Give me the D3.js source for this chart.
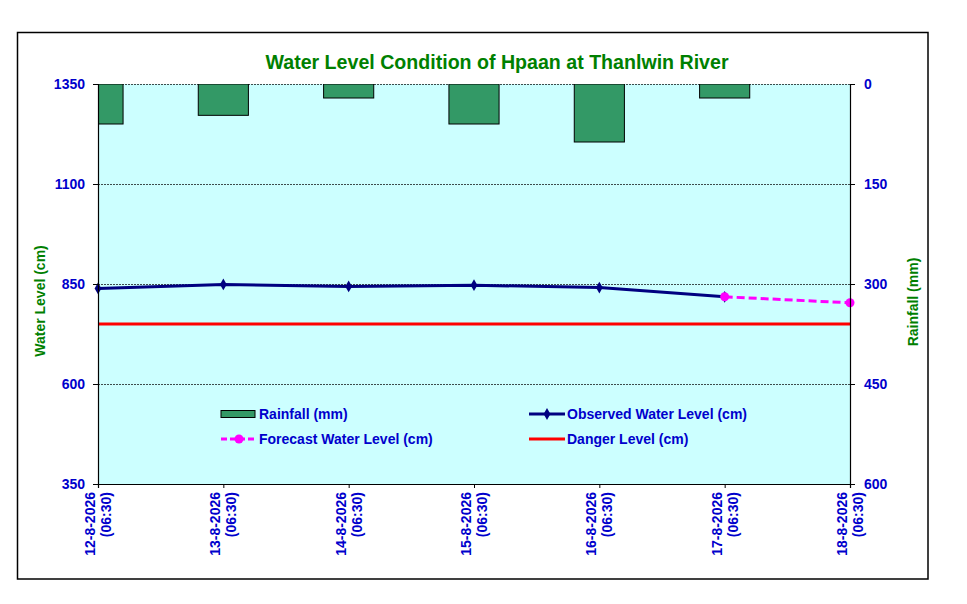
<!DOCTYPE html>
<html>
<head>
<meta charset="utf-8">
<script src="https://cdn.jsdelivr.net/npm/d3@7"></script>
<style>
  body { margin: 0; background: #fff; }
  svg { display: block; font-family: Arial, 'Liberation Sans', sans-serif; }
</style>
</head>
<body>
<main></main>
<script>
const dates = ['12-8-2026', '13-8-2026', '14-8-2026', '15-8-2026', '16-8-2026', '17-8-2026', '18-8-2026'];
const timeLabel = '(06:30)';
const observed = [839, 849, 844, 847, 841, 818, null];
const forecast = [null, null, null, null, null, 818, 803];
const rainfall = [60, 47, 21, 60, 87, 21, 0];
const dangerLevel = 750;
const levelTicks = [350, 600, 850, 1100, 1350];
const rainTicks = [0, 150, 300, 450, 600];

const width = 967;
const height = 604;
const plot = { left: 98, right: 850, top: 84, bottom: 484 };
const blue = '#0000cc';
const green = '#008000';

const svg = d3.select('main')
  .append('svg')
  .attr('width', width)
  .attr('height', height)

// outer frame
svg.append('rect')
  .attr('x', 17.5)
  .attr('y', 32.5)
  .attr('width', 910.5)
  .attr('height', 546.5)
  .attr('fill', '#fff')
  .attr('stroke', '#000')
  .attr('stroke-width', 1.5)

// Scales
const x = d3.scalePoint()
  .domain(dates)
  .range([plot.left, plot.right])

const yLevel = d3.scaleLinear()
  .domain([350, 1350])
  .range([plot.bottom, plot.top])

const yRain = d3.scaleLinear()
  .domain([0, 600])
  .range([plot.top, plot.bottom])

// plot background
svg.append('rect')
  .attr('x', plot.left)
  .attr('y', plot.top)
  .attr('width', plot.right - plot.left)
  .attr('height', plot.bottom - plot.top)
  .attr('fill', '#ccffff')

svg.append('clipPath')
  .attr('id', 'plot-clip')
  .append('rect')
  .attr('x', plot.left)
  .attr('y', plot.top)
  .attr('width', plot.right - plot.left)
  .attr('height', plot.bottom - plot.top)

// grid lines
svg.append('g')
  .selectAll('line')
  .data(levelTicks.filter(d => d > 350))
  .enter()
  .append('line')
  .attr('x1', plot.left)
  .attr('x2', plot.right)
  .attr('y1', d => yLevel(d) + 0.5)
  .attr('y2', d => yLevel(d) + 0.5)
  .attr('stroke', '#000')
  .attr('stroke-width', 0.7)
  .attr('stroke-dasharray', '2,1')

// Rainfall bars
const barWidth = x.step() * 0.4;
svg.append('g')
  .attr('clip-path', 'url(#plot-clip)')
  .selectAll('rect')
  .data(dates.map((d, i) => ({ date: d, value: rainfall[i] })).filter(d => d.value > 0))
  .enter()
  .append('rect')
  .attr('x', d => x(d.date) - barWidth / 2)
  .attr('y', yRain(0))
  .attr('width', barWidth)
  .attr('height', d => yRain(d.value) - yRain(0))
  .attr('fill', '#339966')
  .attr('stroke', '#000')
  .attr('stroke-width', 1)

// Danger level
svg.append('line')
  .attr('x1', plot.left)
  .attr('x2', plot.right)
  .attr('y1', yLevel(dangerLevel))
  .attr('y2', yLevel(dangerLevel))
  .attr('stroke', '#ff0000')
  .attr('stroke-width', 3)

// Observed line
const obsData = dates.map((d, i) => ({ date: d, value: observed[i] })).filter(d => d.value !== null);
const line = d3.line()
  .x(d => x(d.date))
  .y(d => yLevel(d.value))

svg.append('path')
  .datum(obsData)
  .attr('d', line)
  .attr('fill', 'none')
  .attr('stroke', '#000080')
  .attr('stroke-width', 3)

const diamond = d3.symbol().type(d3.symbolDiamond).size(40);
svg.append('g')
  .selectAll('path')
  .data(obsData)
  .enter()
  .append('path')
  .attr('d', diamond)
  .attr('transform', d => `translate(${x(d.date)}, ${yLevel(d.value)})`)
  .attr('fill', '#000080')

// Forecast line
const fcData = dates.map((d, i) => ({ date: d, value: forecast[i] })).filter(d => d.value !== null);
svg.append('path')
  .datum(fcData)
  .attr('d', line)
  .attr('fill', 'none')
  .attr('stroke', '#ff00ff')
  .attr('stroke-width', 3)
  .attr('stroke-dasharray', '8,4')

svg.append('g')
  .selectAll('circle')
  .data(fcData)
  .enter()
  .append('circle')
  .attr('cx', d => x(d.date))
  .attr('cy', d => yLevel(d.value))
  .attr('r', 4.5)
  .attr('fill', '#ff00ff')

// Axes
const leftAxis = svg.append('g')
  .attr('transform', `translate(${plot.left}, 0)`)
  .call(d3.axisLeft(yLevel).tickValues(levelTicks).tickFormat(d3.format('d')).tickSize(5).tickPadding(8))

const rightAxis = svg.append('g')
  .attr('transform', `translate(${plot.right}, 0)`)
  .call(d3.axisRight(yRain).tickValues(rainTicks).tickFormat(d3.format('d')).tickSize(5).tickPadding(9))

const bottomAxis = svg.append('g')
  .attr('transform', `translate(0, ${plot.bottom})`)
  .call(d3.axisBottom(x).tickSize(4).tickFormat(''))

for (const ax of [leftAxis, rightAxis, bottomAxis]) {
  ax.select('.domain').attr('stroke', '#000').attr('stroke-width', 1.2)
  ax.selectAll('.tick line').attr('stroke', '#000')
  ax.selectAll('text')
    .attr('fill', blue)
    .style('font-size', '14px')
    .style('font-weight', 'bold')
    .style('font-family', "Arial, 'Liberation Sans', sans-serif")
}

// x labels, rotated, two lines
const xLabels = svg.append('g')
  .selectAll('text')
  .data(dates)
  .enter()
  .append('text')
  .attr('transform', d => `translate(${x(d) - 8}, 492) rotate(-90)`)
  .attr('text-anchor', 'end')
  .attr('fill', blue)
  .style('font-size', '14px')
  .style('font-weight', 'bold')

xLabels.append('tspan')
  .attr('x', 0)
  .attr('dy', '0.35em')
  .text(d => d)

xLabels.append('tspan')
  .attr('x', 0)
  .attr('dy', 16)
  .text(timeLabel)

// Title
svg.append('text')
  .attr('x', 497)
  .attr('y', 69)
  .attr('text-anchor', 'middle')
  .attr('fill', green)
  .style('font-size', '19.6px')
  .style('font-weight', 'bold')
  .text('Water Level Condition of Hpaan at Thanlwin River')

// Axis titles
svg.append('text')
  .attr('transform', 'translate(45, 301) rotate(-90)')
  .attr('text-anchor', 'middle')
  .attr('fill', green)
  .style('font-size', '14px')
  .style('font-weight', 'bold')
  .text('Water Level (cm)')

svg.append('text')
  .attr('transform', 'translate(918, 302) rotate(-90)')
  .attr('text-anchor', 'middle')
  .attr('fill', green)
  .style('font-size', '14px')
  .style('font-weight', 'bold')
  .text('Rainfall (mm)')

// Legend
const legendItems = [
  { label: 'Rainfall (mm)', type: 'bar', col: 0, row: 0 },
  { label: 'Observed Water Level (cm)', type: 'observed', col: 1, row: 0 },
  { label: 'Forecast Water Level (cm)', type: 'forecast', col: 0, row: 1 },
  { label: 'Danger Level (cm)', type: 'danger', col: 1, row: 1 }
];

const legend = svg.append('g')
  .selectAll('g')
  .data(legendItems)
  .enter()
  .append('g')
  .attr('transform', d => `translate(${d.col === 0 ? 221 : 529}, ${414 + d.row * 25})`)

legend.filter(d => d.type === 'bar')
  .append('rect')
  .attr('x', 0)
  .attr('y', -3.5)
  .attr('width', 34)
  .attr('height', 7)
  .attr('fill', '#339966')
  .attr('stroke', '#000')

legend.filter(d => d.type !== 'bar')
  .append('line')
  .attr('x1', 0)
  .attr('x2', 36)
  .attr('stroke', d => d.type === 'observed' ? '#000080' : d.type === 'forecast' ? '#ff00ff' : '#ff0000')
  .attr('stroke-width', 3)
  .attr('stroke-dasharray', d => d.type === 'forecast' ? '6,3' : null)

legend.filter(d => d.type === 'observed')
  .append('path')
  .attr('d', diamond)
  .attr('transform', 'translate(18, 0)')
  .attr('fill', '#000080')

legend.filter(d => d.type === 'forecast')
  .append('circle')
  .attr('cx', 18)
  .attr('r', 4.5)
  .attr('fill', '#ff00ff')

legend.append('text')
  .attr('x', 38)
  .attr('dy', '0.35em')
  .attr('fill', blue)
  .style('font-size', '14px')
  .style('font-weight', 'bold')
  .text(d => d.label)
</script>
</body>
</html>
